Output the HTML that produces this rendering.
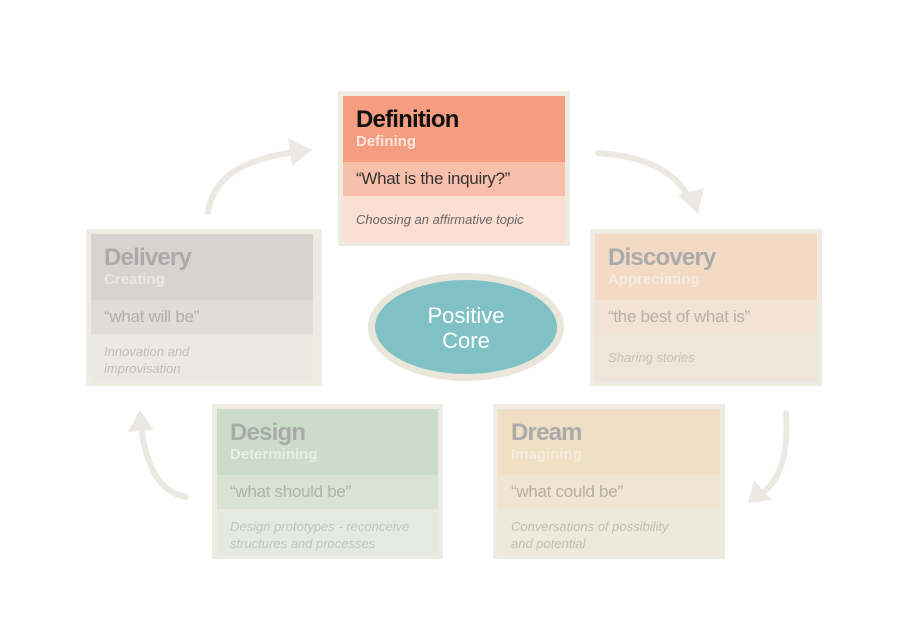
<!DOCTYPE html>
<html><head><meta charset="utf-8"><style>
body{margin:0;width:900px;height:636px;background:#fff;position:relative;overflow:hidden;font-family:"Liberation Sans","DejaVu Sans",sans-serif}
.card{position:absolute;background:#eeebe3}
.card div{position:absolute;left:5px;right:5px;box-sizing:border-box;padding-left:13px}
.h{top:5px;height:66px}
.h b{display:block;font-size:24px;padding-top:11px;line-height:26px;letter-spacing:-0.8px}
.h i{display:block;font-style:normal;font-weight:bold;font-size:15px;line-height:18px}
.q{top:71px;height:34px;font-size:17px;line-height:34px;letter-spacing:-0.3px}
.f{top:105px;bottom:4px;font-style:italic;font-size:13px;line-height:17px;padding-top:15px}
</style></head><body>
<svg width="900" height="636" style="position:absolute;left:0;top:0">
<g fill="none" stroke="#ece9e2" stroke-width="6" stroke-linecap="round">
<path d="M208 212 Q215 162 296 152"/>
<path d="M598 153 Q670 158 690 200"/>
<path d="M786 413 Q790 475 760 495"/>
<path d="M186 497 Q148 490 141 425"/>
</g>
<g fill="#ece9e2">
<polygon points="312,150 288,138 292,166"/>
<polygon points="698,214 678,195 704,188"/>
<polygon points="748,503 754,480 772,500"/>
<polygon points="140,410 128,432 154,430"/>
</g>
<ellipse cx="466" cy="327" rx="98" ry="54" fill="#ebe6da"/>
<ellipse cx="466" cy="327" rx="91" ry="47" fill="#7fc1c4"/>
<text x="466" y="323" text-anchor="middle" font-family="Liberation Sans" font-size="22" fill="#fff">Positive</text>
<text x="466" y="348" text-anchor="middle" font-family="Liberation Sans" font-size="22" fill="#fff">Core</text>
</svg>

<div class="card" style="left:338px;top:91px;width:232px;height:155px">
<div class="h" style="background:#f59d80"><b style="color:#111">Definition</b><i style="color:#fde6dc">Defining</i></div>
<div class="q" style="background:#f8c0aa;color:#333">“What is the inquiry?”</div>
<div class="f" style="background:#fbdfd2;color:#666">Choosing an affirmative topic</div>
</div>

<div class="card" style="left:86px;top:229px;width:236px;height:157px">
<div class="h" style="background:#d8d2d0;right:9px"><b style="color:#aaa">Delivery</b><i style="color:#eee7df">Creating</i></div>
<div class="q" style="background:#e1dcd9;color:#b3aeaa;right:9px">“what will be”</div>
<div class="f" style="background:#ece8e3;color:#c2bdb8;right:9px;padding-top:9px">Innovation and<br>improvisation</div>
</div>

<div class="card" style="left:590px;top:229px;width:232px;height:157px">
<div class="h" style="background:#f2dac5"><b style="color:#aaa">Discovery</b><i style="color:#f6e9df">Appreciating</i></div>
<div class="q" style="background:#f2e3d5;color:#b8b0a8">“the best of what is”</div>
<div class="f" style="background:#efe6da;color:#c8c0b6;padding-top:15px">Sharing stories</div>
</div>

<div class="card" style="left:212px;top:404px;width:231px;height:155px">
<div class="h" style="background:#cbdcc9"><b style="color:#aaa">Design</b><i style="color:#e8efe3">Determining</i></div>
<div class="q" style="background:#d8e3d3;color:#aeb3ab">“what should be”</div>
<div class="f" style="background:#e5e9df;color:#c2c5bc;padding-top:9px">Design prototypes - reconceive<br>structures and processes</div>
</div>

<div class="card" style="left:493px;top:404px;width:232px;height:155px">
<div class="h" style="background:#efdfc4"><b style="color:#aaa">Dream</b><i style="color:#f5ecdc">Imagining</i></div>
<div class="q" style="background:#f0e5d1;color:#b5aea3">“what could be”</div>
<div class="f" style="background:#efe9dc;color:#c2bcb1;padding-top:9px">Conversations of possibility<br>and potential</div>
</div>
</body></html>
